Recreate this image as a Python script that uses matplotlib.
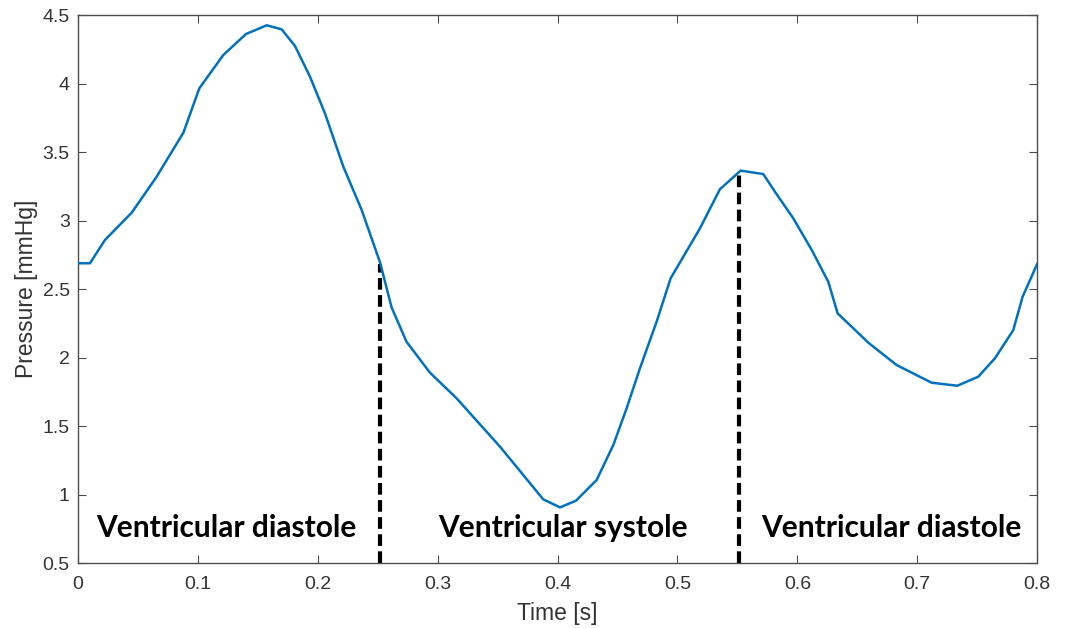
import numpy as np
import matplotlib.pyplot as plt

# Pressure trace
time_s = [0.0, 0.01, 0.0225, 0.0448, 0.0656, 0.0879, 0.1012, 0.1212, 0.1401,
          0.1574, 0.1699, 0.181, 0.1935, 0.206, 0.2213, 0.2366, 0.2519, 0.2616,
          0.274, 0.2936, 0.3158, 0.352, 0.388, 0.402, 0.4154, 0.4326, 0.4465,
          0.4576, 0.4687, 0.4826, 0.4943, 0.5188, 0.5354, 0.5527, 0.5716,
          0.5813, 0.5966, 0.612, 0.6258, 0.6336, 0.6467, 0.6592, 0.6828, 0.712,
          0.7334, 0.7509, 0.7648, 0.7801, 0.7879, 0.8]
pressure = [2.688, 2.688, 2.858, 3.057, 3.32, 3.641, 3.965, 4.208, 4.361,
            4.425, 4.395, 4.274, 4.05, 3.782, 3.393, 3.077, 2.695, 2.365,
            2.115, 1.889, 1.702, 1.349, 0.965, 0.906, 0.955, 1.106, 1.361,
            1.629, 1.921, 2.261, 2.578, 2.943, 3.228, 3.364, 3.339,
            3.21, 3.016, 2.785, 2.553, 2.322, 2.213, 2.108, 1.945, 1.816,
            1.794, 1.86, 1.994, 2.2, 2.444, 2.682]

# phase boundaries and labels
phase_t = [0.252, 0.551]
phase_top = [2.68, 3.35]
phase_names = ['Ventricular diastole', 'Ventricular systole', 'Ventricular diastole']
phase_label_x = [0.1239, 0.4048, 0.6783]

fig = plt.figure(figsize=(10.67, 6.28), dpi=100)
ax = fig.add_axes([0.0731, 0.1035, 0.8989, 0.8726])

ax.plot(time_s, pressure, color='#0072BD', lw=1.8, zorder=3)
for t, top in zip(phase_t, phase_top):
    ax.plot([t, t], [0.5, top], color='black', lw=3, ls=(0, (2.8, 1.3)), zorder=2)
for name, x in zip(phase_names, phase_label_x):
    ax.text(x, 0.69, name, ha='center', va='baseline', fontsize=21.5,
            fontweight='bold', family='Lato', color='black')

ax.set_xlim(0, 0.8)
ax.set_ylim(0.5, 4.5)
ax.set_xticks(np.arange(0, 0.81, 0.1))
ax.set_xticklabels(['0', '0.1', '0.2', '0.3', '0.4', '0.5', '0.6', '0.7', '0.8'])
ax.set_yticks(np.arange(0.5, 4.51, 0.5))
ax.set_yticklabels(['0.5', '1', '1.5', '2', '2.5', '3', '3.5', '4', '4.5'])
ax.tick_params(direction='in', top=True, right=True, length=6, width=0.8,
               colors='#4d4d4d', labelcolor='#333333', labelsize=14)
ax.tick_params(axis='x', pad=9)
ax.tick_params(axis='y', pad=6)
for lbl in ax.get_xticklabels() + ax.get_yticklabels():
    lbl.set_family('Liberation Sans')
for s in ax.spines.values():
    s.set_color('#4d4d4d')
    s.set_linewidth(1)

ax.set_xlabel('Time [s]', fontsize=16.5, color='#333333', family='Liberation Sans', labelpad=7)
ax.set_ylabel('Pressure [mmHg]', fontsize=16.5, color='#333333', family='Liberation Sans', labelpad=3)

fig.savefig('out.png', dpi=100)
